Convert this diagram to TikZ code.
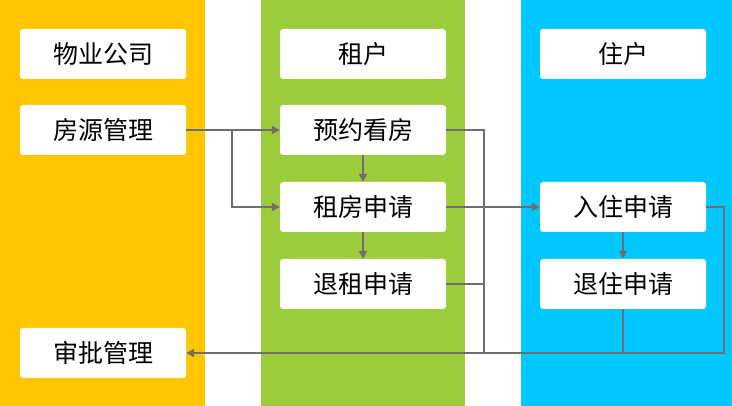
\documentclass[tikz,border=0pt]{standalone}
\usepackage{fontspec}
\setmainfont{Noto Sans CJK SC}
\usetikzlibrary{arrows.meta}
\definecolor{cy}{HTML}{FFC600}
\definecolor{cg}{HTML}{9CCB3B}
\definecolor{cb}{HTML}{00C8FF}
\definecolor{ln}{HTML}{6E6E6E}
\begin{document}
\begin{tikzpicture}[x=1pt,y=-1pt,
  box/.style={fill=white,rounded corners=3pt,minimum width=166pt,minimum height=50pt,font=\fontsize{25}{28}\selectfont,inner sep=0pt},
  con/.style={draw=ln,line width=1.8pt},
  arr/.style={con,-{Triangle[length=8pt,width=8pt]}}]
\useasboundingbox (0,0) rectangle (732,406);
\fill[cy] (0,0) rectangle (205,406);
\fill[cg] (261,0) rectangle (465,406);
\fill[cb] (521,0) rectangle (732,406);
\node[box] (wy) at (103,54) {物业公司};
\node[box] (fy) at (103,130) {房源管理};
\node[box] (sp) at (103,353) {审批管理};
\node[box] (zh) at (363,54) {租户};
\node[box] (yy) at (363,130) {预约看房};
\node[box] (zf) at (363,207) {租房申请};
\node[box] (tz) at (363,284) {退租申请};
\node[box] (jz) at (623,54) {住户};
\node[box] (rz) at (623,207) {入住申请};
\node[box] (tj) at (623,284) {退住申请};
\coordinate (b1) at (232,130);
\coordinate (j1) at (484,130);
\coordinate (j2) at (484,353);
\coordinate (r1) at (724,207);
\coordinate (r2) at (724,353);
\coordinate (t2) at (623,353);
\draw[arr] (fy) -- (yy);
\draw[arr] (b1) |- (zf);
\draw[arr] (yy) -- (zf);
\draw[arr] (zf) -- (tz);
\draw[arr] (zf) -- (rz);
\draw[arr] (rz) -- (tj);
\draw[con] (yy.east) -| (j2);
\draw[con] (tz.east) -- (tz.east -| j1);
\draw[con] (tj.south) -- (t2);
\draw[arr] (rz.east) -- (r1) -- (r2) -- (sp.east);
\end{tikzpicture}
\end{document}
